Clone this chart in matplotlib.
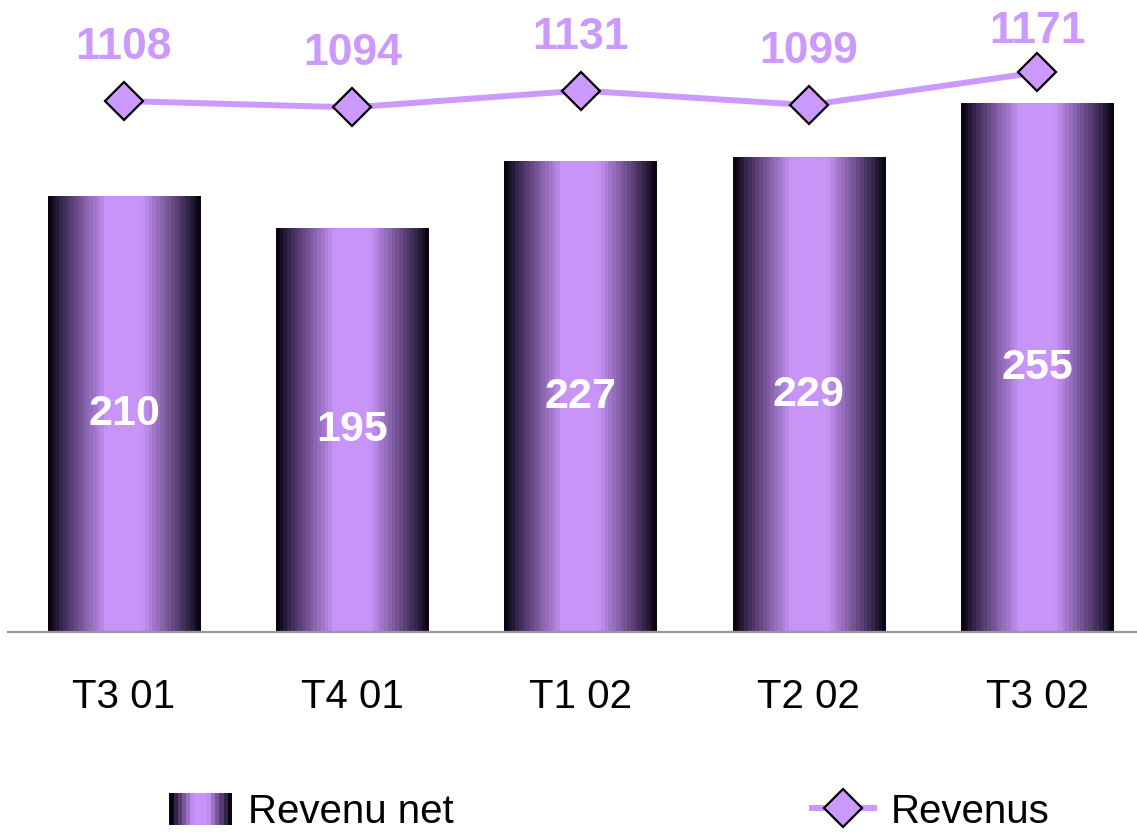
import numpy as np
import matplotlib
matplotlib.use('Agg')
import matplotlib.pyplot as plt
from matplotlib.colors import LinearSegmentedColormap
from matplotlib.patches import Rectangle
from matplotlib.lines import Line2D
from matplotlib.legend_handler import HandlerBase

quarters = ['T3 01', 'T4 01', 'T1 02', 'T2 02', 'T3 02']
revenu_net = [210, 195, 227, 229, 255]
revenus = [1108, 1094, 1131, 1099, 1171]

light = '#c994f8'
dark = '#0b0412'
label_col = '#cc99ff'

plt.rcParams['font.family'] = ['Liberation Sans', 'DejaVu Sans']

# dark edges -> broad light centre -> dark edges, in bands like the original
cmap = LinearSegmentedColormap.from_list(
    'bar', [(0, dark), (0.08, '#3a2850'), (0.38, light), (0.62, light), (0.92, '#3a2850'), (1, dark)])
n_bands = 41
band = cmap(np.linspace(0, 1, n_bands))[np.newaxis, :, :]

fig = plt.figure(figsize=(11.37, 8.32), dpi=100)
ax = fig.add_axes([8 / 1137, 1 - 632 / 832, 1 - 8 / 1137, 632 / 832])
x = np.arange(len(quarters))

bars = ax.bar(x, revenu_net, width=0.667, color='none', edgecolor='none', zorder=2)
for b in bars:
    im = ax.imshow(band, extent=[b.get_x(), b.get_x() + b.get_width(), 0, b.get_height()],
                   aspect='auto', interpolation='nearest', zorder=2)
    im.set_clip_path(b)

for xi, v in zip(x, revenu_net):
    ax.text(xi, v / 2, str(v), ha='center', va='center', color='white',
            fontsize=31, fontweight='bold', zorder=4)

ax.set_xlim(-0.508, 4.437)
ax.set_ylim(0, 304.7)
ax.set_yticks([])
ax.set_xticks(x)
ax.set_xticklabels(quarters, fontsize=29)
ax.tick_params(axis='x', length=0, pad=33)
for s in ['left', 'right', 'top']:
    ax.spines[s].set_visible(False)
ax.spines['bottom'].set_color('#999999')
ax.spines['bottom'].set_linewidth(1.6)

ax2 = ax.twinx()
ax2.plot(x, revenus, color=label_col, linewidth=4.3, marker='D', markersize=19,
         markerfacecolor=label_col, markeredgecolor='black', markeredgewidth=1.6, zorder=3)
ax2.set_ylim(-60.3, 1330.3)
ax2.set_yticks([])
for s in ax2.spines.values():
    s.set_visible(False)
ax.set_zorder(1)
ax2.set_zorder(2)
ax2.patch.set_visible(False)

# labels sit ~42 px above the point, but are pushed down to stay inside the figure
fig_h = fig.get_figheight() * fig.dpi
for xi, v in zip(x, revenus):
    yd = ax2.transData.transform((xi, v))[1]
    off_px = min(42, (fig_h - 43) - yd)
    ax2.annotate(str(v), (xi, v), xytext=(0, off_px * 72 / fig.dpi), textcoords='offset points',
                 ha='center', va='baseline', color=label_col, fontsize=32, fontweight='bold')


class GradientHandler(HandlerBase):
    def create_artists(self, legend, orig_handle, xdescent, ydescent, width, height, fontsize, trans):
        cols = cmap(np.linspace(0, 1, 15))
        w = width / len(cols)
        return [Rectangle((-xdescent + i * w, -ydescent), w * 1.05, height, facecolor=c,
                          edgecolor='none', transform=trans) for i, c in enumerate(cols)]


bar_handle = Rectangle((0, 0), 1, 1)
line_handle = Line2D([], [], color=label_col, linewidth=4.3, marker='D', markersize=19,
                     markerfacecolor=label_col, markeredgecolor='black', markeredgewidth=1.6)
fig.legend([bar_handle, line_handle], ['Revenu net', 'Revenus'], loc='center',
           bbox_to_anchor=(0.536, 0.024), ncol=2, frameon=False, fontsize=29,
           handlelength=1.55, handleheight=0.85, handletextpad=0.4, columnspacing=8.9,
           borderpad=0.0, handler_map={Rectangle: GradientHandler()})

fig.savefig('out.png', dpi=100)
